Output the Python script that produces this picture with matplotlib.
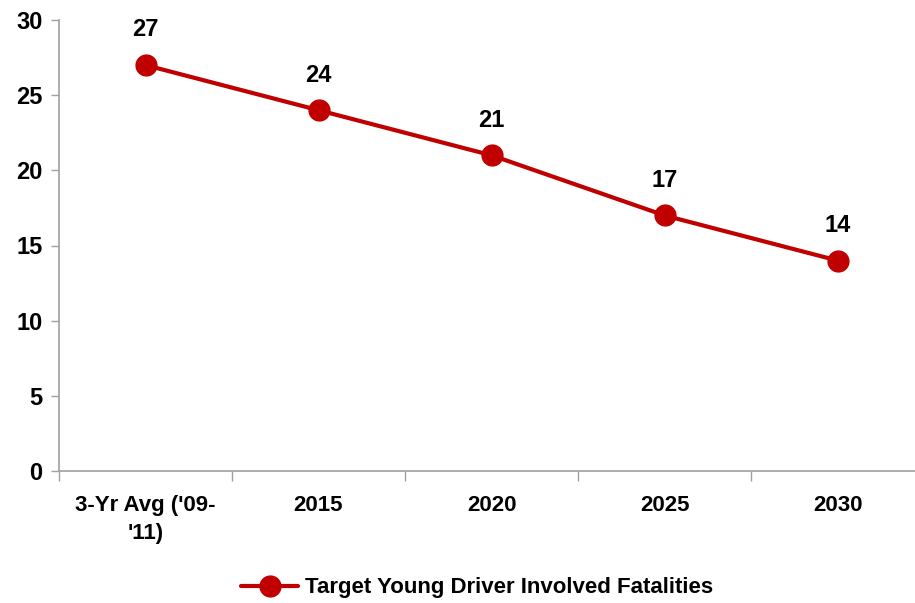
import matplotlib
matplotlib.use("Agg")
import matplotlib.pyplot as plt
from matplotlib import font_manager

categories = ["3-Yr Avg ('09-\n'11)", "2015", "2020", "2025", "2030"]
fatalities = [27, 24, 21, 17, 14]
series_name = "Target Young Driver Involved Fatalities"
y_ticks = [0, 5, 10, 15, 20, 25, 30]

names = {f.name for f in font_manager.fontManager.ttflist}
family = "Liberation Sans Narrow" if "Liberation Sans Narrow" in names else "Liberation Sans"
plt.rcParams["font.family"] = [family, "DejaVu Sans"]
plt.rcParams["font.weight"] = "bold"

red = "#C00000"
grey = "#A0A0A0"

fig = plt.figure(figsize=(9.15, 6.03), dpi=100)
ax = fig.add_axes([59 / 915, 132 / 603, 865 / 915, 451 / 603])

x = list(range(len(categories)))
ax.plot(x, fatalities, color=red, linewidth=3, marker="o", markersize=15,
        label=series_name, solid_capstyle="round")

for xi, v in zip(x, fatalities):
    ax.annotate(str(v), (xi, v), xytext=(0, 17), textcoords="offset points",
                ha="center", va="bottom", fontsize=17, fontweight="bold")

ax.set_xlim(-0.5, len(categories) - 0.5)
ax.set_ylim(0, 30)
ax.set_yticks(y_ticks)
ax.tick_params(axis="y", labelsize=17, length=6, width=1, color=grey, pad=6)
ax.set_xticks(x)
ax.set_xticklabels(categories, fontsize=16, fontweight="bold", linespacing=1.45)
ax.tick_params(axis="x", length=0, pad=17)
ax.set_xticks([i - 0.5 for i in range(len(categories) + 1)], minor=True)
ax.tick_params(axis="x", which="minor", length=7, width=1, color=grey)

for s in ["top", "right"]:
    ax.spines[s].set_visible(False)
for s in ["left", "bottom"]:
    ax.spines[s].set_color(grey)
    ax.spines[s].set_linewidth(1.2)

fig.legend(loc="center", bbox_to_anchor=(477 / 915, 1 - 588 / 603), frameon=False,
           handlelength=2.6, handletextpad=0.3,
           prop={"weight": "bold", "size": 16})

fig.savefig("out.png", dpi=100)
